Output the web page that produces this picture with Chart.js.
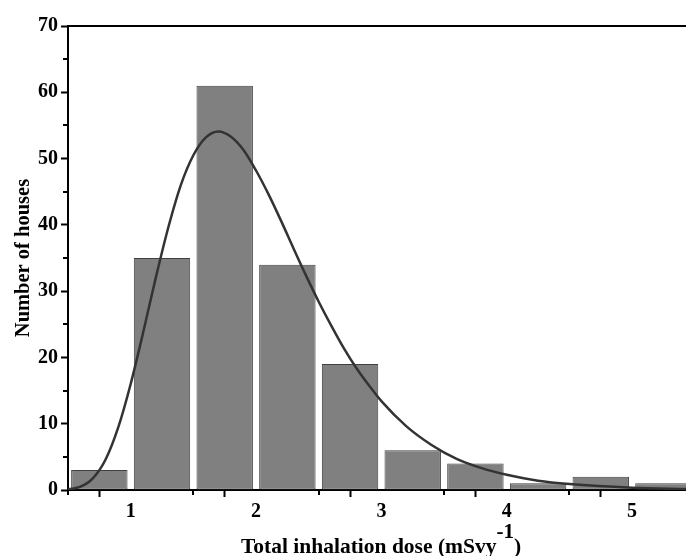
<!DOCTYPE html>
<html>
<head>
<meta charset="utf-8">
<script src="https://cdn.jsdelivr.net/npm/chart.js@4.4.1/dist/chart.umd.min.js"></script>
<style>
  html, body { margin: 0; padding: 0; background: #fff; }
  #wrap { width: 686px; height: 556px; }
</style>
</head>
<body>
<div id="wrap"><canvas id="chart" width="686" height="556"></canvas></div>
<script>
// histogram bins (width 0.5 mSv/y), centres and counts
const binCenters = [0.75, 1.25, 1.75, 2.25, 2.75, 3.25, 3.75, 4.25, 4.75, 5.25];
const houseCounts = [3, 35, 61, 34, 19, 6, 4, 1, 2, 1];

// fitted distribution curve
const fitX = [0.5, 0.6, 0.7, 0.8, 0.9, 1.0, 1.1, 1.2, 1.3, 1.4, 1.5, 1.6, 1.7, 1.8, 1.9, 2.0,
  2.1, 2.2, 2.3, 2.4, 2.5, 2.6, 2.7, 2.8, 2.9, 3.0, 3.2, 3.4, 3.6, 3.8, 4.0, 4.25, 4.5, 5.0, 5.45];
const fitY = [0.1, 0.5, 1.8, 4.6, 9.4, 16.0, 23.8, 32.0, 39.6, 46.0, 50.5, 53.2, 54.1, 53.3, 51.3, 48.2,
  44.6, 40.6, 36.4, 32.3, 28.4, 24.8, 21.4, 18.4, 15.8, 13.4, 9.6, 6.8, 4.7, 3.3, 2.3, 1.4, 0.9, 0.35, 0.15];

const yTitle = `Number of houses`;
const xTitle = `Total inhalation dose (mSvy`;
const xTitleSup = `-1`;

const FONT = `"Liberation Serif", "Times New Roman", serif`;
const MINOR_LEN = 4;

const isMajorX = (v) => Number.isInteger(v);
const isMajorY = (v) => v % 10 === 0;

const frameAndTitle = {
  id: `frameAndTitle`,
  afterDraw(chart) {
    const {ctx, chartArea, scales} = chart;
    ctx.save();
    ctx.strokeStyle = `#000`;
    ctx.lineWidth = 2;

    // top frame line
    ctx.beginPath();
    ctx.moveTo(chartArea.left, chartArea.top);
    ctx.lineTo(chartArea.right, chartArea.top);
    ctx.stroke();

    // minor ticks
    ctx.beginPath();
    scales.x.ticks.forEach(({value}) => {
      if (!isMajorX(value)) {
        const px = Math.round(scales.x.getPixelForValue(value));
        ctx.moveTo(px, chartArea.bottom);
        ctx.lineTo(px, chartArea.bottom + MINOR_LEN + 1);
      }
    });
    scales.y.ticks.forEach(({value}) => {
      if (!isMajorY(value)) {
        const py = Math.round(scales.y.getPixelForValue(value));
        ctx.moveTo(chartArea.left - MINOR_LEN - 1, py);
        ctx.lineTo(chartArea.left, py);
      }
    });
    ctx.stroke();

    // x axis title with superscript
    const mainFont = `bold 21.5px ${FONT}`;
    const supFont = `bold 21px ${FONT}`;
    ctx.fillStyle = `#000`;
    ctx.textBaseline = `alphabetic`;
    ctx.font = mainFont;
    const w1 = ctx.measureText(xTitle).width;
    const w3 = ctx.measureText(`)`).width;
    ctx.font = supFont;
    const w2 = ctx.measureText(xTitleSup).width;
    const total = w1 + w2 + w3;
    let x = 381 - total / 2;
    const base = 553;
    ctx.textAlign = `left`;
    ctx.font = mainFont;
    ctx.fillText(xTitle, x, base);
    x += w1;
    ctx.font = supFont;
    ctx.fillText(xTitleSup, x, base - 15);
    x += w2;
    ctx.font = mainFont;
    ctx.fillText(`)`, x, base);
    ctx.restore();
  }
};

new Chart(document.getElementById(`chart`), {
  data: {
    datasets: [{
      type: `line`,
      data: fitX.map((x, i) => ({x, y: fitY[i]})),
      borderColor: `#333333`,
      borderWidth: 2.5,
      pointRadius: 0,
      cubicInterpolationMode: `monotone`,
      fill: false,
      order: 0
    }, {
      type: `bar`,
      data: binCenters.map((x, i) => ({x, y: houseCounts[i]})),
      backgroundColor: `#808080`,
      borderColor: `#404040`,
      borderWidth: 1,
      borderSkipped: false,
      barPercentage: 0.9,
      categoryPercentage: 1,
      order: 1
    }]
  },
  options: {
    responsive: false,
    animation: false,
    layout: {padding: {top: 26, right: 0, left: 0, bottom: 0}},
    plugins: {
      legend: {display: false},
      tooltip: {enabled: false}
    },
    scales: {
      x: {
        type: `linear`,
        min: 0.5,
        max: 5.43,
        offset: false,
        afterFit(scale) {
          scale.height = 66;
        },
        border: {display: true, color: `#000`, width: 2},
        grid: {
          drawOnChartArea: false,
          drawTicks: true,
          tickLength: 7,
          tickWidth: 2,
          tickColor: (c) => c.tick && isMajorX(c.tick.value) ? `#000` : `rgba(0,0,0,0)`
        },
        ticks: {
          stepSize: 0.5,
          includeBounds: false,
          maxRotation: 0,
          autoSkip: false,
          padding: 3,
          color: `#000`,
          font: {family: FONT, size: 20, weight: `bold`},
          callback: (v) => isMajorX(v) ? String(v) : ``
        }
      },
      y: {
        min: 0,
        max: 70,
        afterFit(scale) {
          scale.width = 68;
        },
        border: {display: true, color: `#000`, width: 2},
        grid: {
          drawOnChartArea: false,
          drawTicks: true,
          tickLength: 7,
          tickWidth: 2,
          tickColor: (c) => c.tick && isMajorY(c.tick.value) ? `#000` : `rgba(0,0,0,0)`
        },
        ticks: {
          stepSize: 5,
          autoSkip: false,
          padding: 3,
          color: `#000`,
          font: {family: FONT, size: 20, weight: `bold`},
          callback: (v) => isMajorY(v) ? String(v) : ``
        },
        title: {
          display: true,
          text: yTitle,
          color: `#000`,
          padding: {top: 11, bottom: 0},
          font: {family: FONT, size: 20.5, weight: `bold`}
        }
      }
    }
  },
  plugins: [frameAndTitle]
});
</script>
</body>
</html>
